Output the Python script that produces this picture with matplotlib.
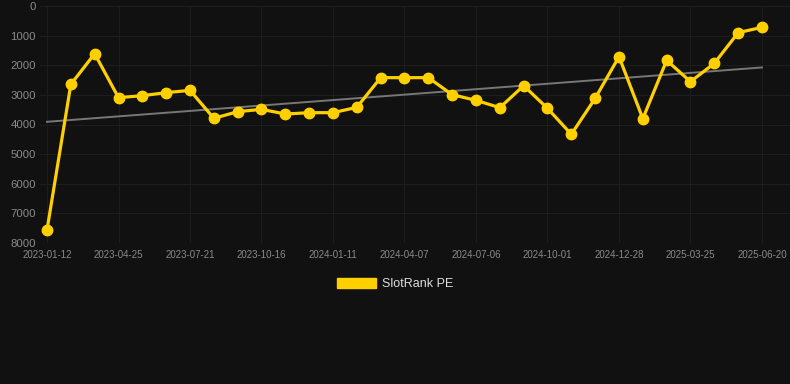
import numpy as np
import matplotlib.pyplot as plt
from matplotlib.patches import Patch

plt.rcParams['font.family'] = ['Liberation Sans', 'DejaVu Sans']

# monthly SlotRank values (lower is better, axis inverted)
rank = [7560, 2645, 1610, 3094, 3027, 2925, 2847, 3792, 3567, 3488,
        3646, 3601, 3601, 3421, 2419, 2419, 2419, 2993, 3184, 3432,
        2689, 3454, 4332, 3117, 1710, 3803, 1834, 2555, 1935, 900, 720]
tick_labels = ['2023-01-12', '2023-04-25', '2023-07-21', '2023-10-16',
               '2024-01-11', '2024-04-07', '2024-07-06', '2024-10-01',
               '2024-12-28', '2025-03-25', '2025-06-20']

bg = '#111111'
gold = '#FFD000'

x = np.arange(len(rank))
y = np.array(rank)

fig = plt.figure(figsize=(7.9, 3.84), dpi=100, facecolor=bg)
ax = fig.add_axes([40/790, 141/384, 750/790, 237/384])
ax.set_facecolor(bg)

# trend line
a, b = np.polyfit(x, y, 1)
ax.plot(x, a*x + b, color='#777777', lw=1.4, zorder=2)

ax.plot(x, y, color=gold, lw=2.3, marker='o', markersize=7.5, zorder=3)

ax.set_ylim(8000, 0)
ax.set_yticks(range(0, 8001, 1000))
ax.set_xlim(-7/23.83, 30 + 28/23.83)
ax.set_xticks(range(0, len(rank), 3))
ax.set_xticklabels(tick_labels)

ax.grid(True, color='#1d1d1d', lw=0.8)
ax.set_axisbelow(True)
for s in ax.spines.values():
    s.set_visible(False)
ax.tick_params(axis='y', length=0, labelsize=8.2, labelcolor='#8a8a8a', pad=3)
ax.tick_params(axis='x', length=0, labelsize=7.0, labelcolor='#8a8a8a', pad=5)

leg = fig.legend(handles=[Patch(facecolor=gold, edgecolor=gold, label='SlotRank PE')],
                 loc='center', bbox_to_anchor=(0.5, 100/384), frameon=False,
                 handlelength=3.1, handleheight=0.9, handletextpad=0.5,
                 fontsize=9, labelcolor='#dddddd')

fig.savefig('out.png', facecolor=bg)
